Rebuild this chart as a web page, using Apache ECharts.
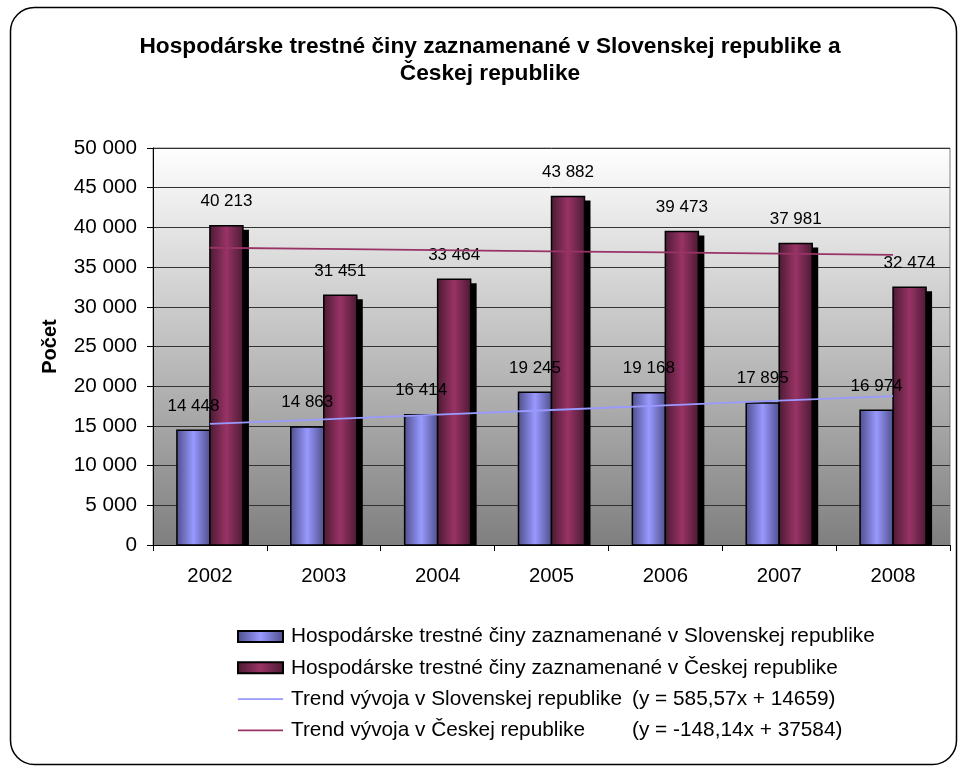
<!DOCTYPE html>
<html lang="sk">
<head>
    <meta charset="UTF-8">
    <title>Hospodárske trestné činy</title>
    <script src="https://cdn.jsdelivr.net/npm/echarts@6/dist/echarts.min.js"></script>
    <style>
        body {
            margin: 0;
            padding: 0;
            background: #fff;
        }
        #chart {
            width: 960px;
            height: 769px;
        }
    </style>
</head>
<body>
    <div id="chart"></div>
    <script>
        const years = ['2002', '2003', '2004', '2005', '2006', '2007', '2008'];
        const skValues = [14448, 14863, 16414, 19245, 19168, 17895, 16974];
        const czValues = [40213, 31451, 33464, 43882, 39473, 37981, 32474];
        // trend lines as drawn (y = 585,57x + 14659 and y = -148,14x + 37584)
        const skTrend = [15245, 15830, 16416, 17001, 17587, 18173, 18758];
        const czTrend = [37436, 37288, 37140, 36991, 36843, 36695, 36547];

        const names = [
            'Hospodárske trestné činy zaznamenané v Slovenskej republike',
            'Hospodárske trestné činy zaznamenané v Českej republike',
            'Trend vývoja v Slovenskej republike',
            'Trend vývoja v Českej republike'
        ];
        const equations = {
            'Trend vývoja v Slovenskej republike': '(y = 585,57x + 14659)',
            'Trend vývoja v Českej republike': '(y = -148,14x + 37584)'
        };

        const fmt = v => String(v).replace(/\B(?=(\d{3})+(?!\d))/g, ' ');
        const font = '"Liberation Sans", Arial, sans-serif';
        const BAR_W = 33;

        function hGrad(edge, mid) {
            return new echarts.graphic.LinearGradient(0, 0, 1, 0, [
                { offset: 0, color: edge },
                { offset: 0.5, color: mid },
                { offset: 1, color: edge }
            ]);
        }
        const skFill = hGrad('#4d4d8a', '#9999ff');
        const czFill = hGrad('#4a1a32', '#993366');

        // bar with a hard black drop shadow, like the old Excel look
        function barRenderer(side, fill) {
            return function (params, api) {
                const idx = api.value(0);
                const val = api.value(1);
                const top = api.coord([idx, val]);
                const base = api.coord([idx, 0]);
                const x = side < 0 ? top[0] - BAR_W : top[0];
                const h = base[1] - top[1];
                return {
                    type: 'group',
                    children: [
                        {
                            type: 'rect',
                            shape: { x: x + 6, y: top[1] + 4, width: BAR_W, height: h - 4 },
                            style: { fill: '#000' }
                        },
                        {
                            type: 'rect',
                            shape: { x: x, y: top[1], width: BAR_W, height: h },
                            style: { fill: fill, stroke: '#000', lineWidth: 1.5 },
                            textContent: {
                                style: {
                                    text: fmt(val),
                                    fill: '#000',
                                    fontFamily: font,
                                    fontSize: 17
                                }
                            },
                            textConfig: { position: 'top', distance: 15 }
                        }
                    ]
                };
            };
        }

        const chart = echarts.init(document.getElementById('chart'));

        const lineIcon = 'path://M0,0L46,0L46,1.6L0,1.6Z';

        chart.setOption({
            animation: false,
            backgroundColor: '#fff',
            title: {
                text: 'Hospodárske trestné činy zaznamenané v Slovenskej republike a\nČeskej republike',
                left: 485,
                top: 28,
                textAlign: 'center',
                textStyle: {
                    fontFamily: font,
                    fontSize: 22.7,
                    fontWeight: 'bold',
                    color: '#000',
                    lineHeight: 27
                }
            },
            graphic: [{
                type: 'rect',
                shape: { x: 10.5, y: 7.5, width: 946, height: 757, r: 24 },
                style: { fill: 'none', stroke: '#000', lineWidth: 1.5 },
                z: 100
            }],
            grid: {
                left: 153,
                top: 148,
                width: 797,
                height: 397,
                show: true,
                borderColor: '#808080',
                borderWidth: 1,
                backgroundColor: new echarts.graphic.LinearGradient(0, 0, 0, 1, [
                    { offset: 0, color: '#ffffff' },
                    { offset: 1, color: '#7f7f7f' }
                ])
            },
            legend: {
                orient: 'vertical',
                left: 237,
                top: 626,
                padding: 0,
                itemWidth: 45,
                itemHeight: 11,
                itemGap: 10.3,
                data: [
                    { name: names[0], icon: 'rect' },
                    { name: names[1], icon: 'rect' },
                    { name: names[2], icon: lineIcon },
                    { name: names[3], icon: lineIcon }
                ],
                formatter: name => equations[name]
                    ? '{a|' + name + '}{b|' + equations[name] + '}'
                    : '{c|' + name + '}',
                textStyle: {
                    fontFamily: font,
                    fontSize: 20.8,
                    color: '#000',
                    rich: {
                        a: { fontFamily: font, fontSize: 20.8, lineHeight: 21, color: '#000', width: 341, padding: [0, 0, 0, 3] },
                        b: { fontFamily: font, fontSize: 20.8, lineHeight: 21, color: '#000' },
                        c: { fontFamily: font, fontSize: 20.8, lineHeight: 21, color: '#000', padding: [0, 0, 0, 3] }
                    }
                }
            },
            xAxis: {
                type: 'category',
                data: years,
                axisLine: { lineStyle: { color: '#000', width: 1 } },
                axisTick: { show: true, length: 6, lineStyle: { color: '#000' } },
                axisLabel: { fontFamily: font, fontSize: 20.3, color: '#000', margin: 21 },
                splitLine: { show: false }
            },
            yAxis: {
                type: 'value',
                min: 0,
                max: 50000,
                interval: 5000,
                name: 'Počet',
                nameLocation: 'middle',
                nameGap: 93,
                nameRotate: 90,
                nameTextStyle: { fontFamily: font, fontSize: 20, fontWeight: 'bold', color: '#000' },
                axisLine: { show: true, lineStyle: { color: '#000', width: 1 } },
                axisTick: { show: true, length: 6, lineStyle: { color: '#000' } },
                axisLabel: { fontFamily: font, fontSize: 20.7, color: '#000', margin: 16, formatter: fmt },
                splitLine: { lineStyle: { color: '#333', width: 1 } }
            },
            series: [
                {
                    name: names[0],
                    type: 'custom',
                    data: skValues.map((v, i) => [i, v]),
                    encode: { x: 0, y: 1 },
                    renderItem: barRenderer(-1, skFill),
                    itemStyle: { color: skFill, borderColor: '#000', borderWidth: 1.5 },
                    z: 2
                },
                {
                    name: names[1],
                    type: 'custom',
                    data: czValues.map((v, i) => [i, v]),
                    encode: { x: 0, y: 1 },
                    renderItem: barRenderer(1, czFill),
                    itemStyle: { color: czFill, borderColor: '#000', borderWidth: 1.5 },
                    z: 2
                },
                {
                    name: names[2],
                    type: 'line',
                    data: skTrend,
                    symbol: 'none',
                    lineStyle: { color: '#9999ff', width: 1.8 },
                    itemStyle: { color: '#9999ff' },
                    z: 3
                },
                {
                    name: names[3],
                    type: 'line',
                    data: czTrend,
                    symbol: 'none',
                    lineStyle: { color: '#993366', width: 1.8 },
                    itemStyle: { color: '#993366' },
                    z: 3
                }
            ]
        });
    </script>
</body>
</html>
